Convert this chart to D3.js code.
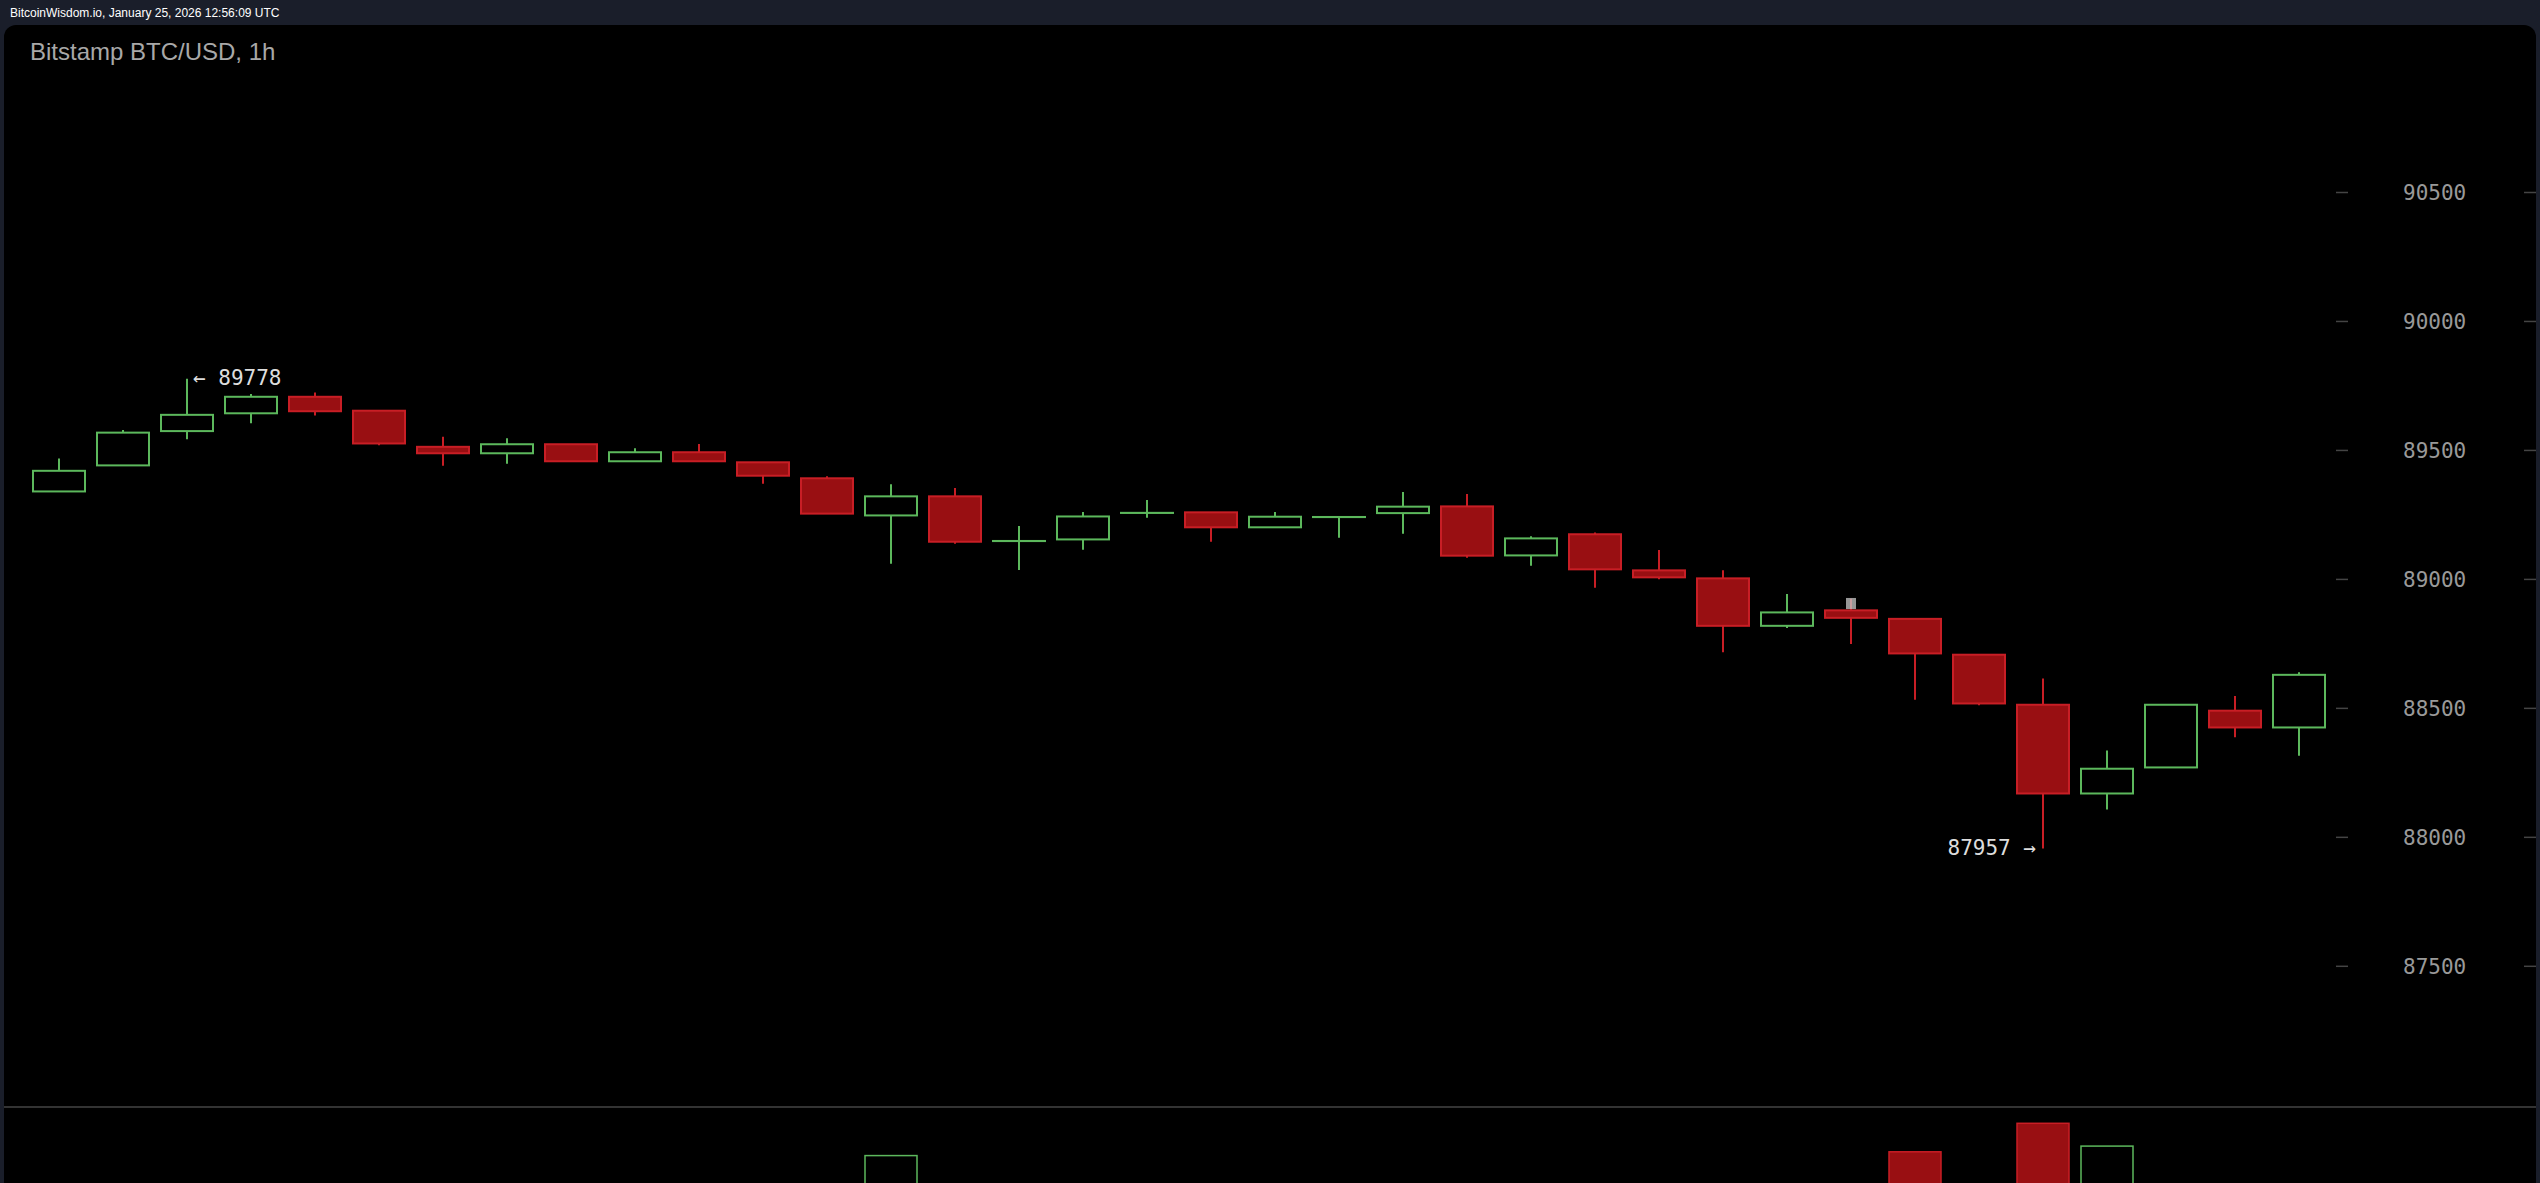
<!DOCTYPE html>
<html>
<head>
<meta charset="utf-8">
<script src="https://cdn.jsdelivr.net/npm/d3@7"></script>
<style>
  html, body { margin: 0; padding: 0; background: #1a1e2a; overflow: hidden; }
  svg { display: block; }
</style>
</head>
<body>
<svg id="chart" width="2540" height="1183"></svg>
<script>
// ---- Data (hourly candles, Bitstamp BTC/USD) ----
const opens  = [89341, 89442, 89575, 89644, 89708, 89654, 89514, 89489, 89524, 89458, 89493, 89454,
                89392, 89248, 89322, 89149, 89155, 89258, 89260, 89202, 89242, 89257, 89283, 89093,
                89175, 89035, 89004, 88820, 88880, 88847, 88708, 88514, 88170, 88271, 88491, 88426];
const highs  = [89469, 89579, 89778, 89719, 89725, 89654, 89553, 89547, 89524, 89508, 89525, 89454,
                89400, 89369, 89354, 89207, 89261, 89308, 89260, 89261, 89242, 89339, 89331, 89167,
                89182, 89114, 89035, 88943, 88925, 88847, 88708, 88616, 88337, 88514, 88548, 88640];
const lows   = [89341, 89442, 89543, 89605, 89635, 89520, 89441, 89448, 89458, 89458, 89458, 89371,
                89255, 89061, 89138, 89036, 89115, 89239, 89146, 89202, 89161, 89177, 89084, 89053,
                88968, 89001, 88718, 88812, 88750, 88533, 88512, 87957, 88108, 88271, 88388, 88316];
const closes = [89421, 89569, 89638, 89708, 89652, 89527, 89489, 89524, 89458, 89493, 89458, 89402,
                89255, 89322, 89146, 89149, 89244, 89258, 89202, 89243, 89242, 89282, 89092, 89159,
                89039, 89008, 88820, 88872, 88851, 88713, 88519, 88170, 88266, 88514, 88426, 88630];
// relative volume (only the tallest bars reach above the bottom edge of the window)
const volumes = [22, 30, 45, 28, 26, 40, 24, 18, 20, 16, 18, 26,
                 48, 76, 52, 38, 30, 20, 25, 18, 22, 34, 50, 30,
                 42, 28, 55, 36, 40, 78, 58, 93, 81, 50, 30, 45];
const priceTicks = [87500, 88000, 88500, 89000, 89500, 90000, 90500];
const highLabel = { index: 2, value: 89778, text: "\u2190 89778" };
const lowLabel  = { index: 31, value: 87957, text: "87957 \u2192" };
const marker = { index: 28, top: 88928, bottom: 88885 };
const headerText = "BitcoinWisdom.io, January 25, 2026 12:56:09 UTC";
const titleText = "Bitstamp BTC/USD, 1h";

// ---- Styles ----
const GREEN = "#5cb85c";
const RED_FILL = "#990f12";
const RED_STROKE = "#c81e25";
const BODY_W = 52;

const svg = d3.select("#chart");

// background panel
svg.append("rect").attr("x", 0).attr("y", 0).attr("width", 2540).attr("height", 1183).attr("fill", "#1a1e2a");
svg.append("rect").attr("x", 4).attr("y", 25).attr("width", 2532).attr("height", 1200)
   .attr("rx", 12).attr("ry", 12).attr("fill", "#000");

svg.append("text").attr("x", 10).attr("y", 17)
   .attr("font-family", "'Liberation Sans', Arial, sans-serif").attr("font-size", 12)
   .attr("fill", "#ffffff").text(headerText);
svg.append("text").attr("x", 30).attr("y", 60)
   .attr("font-family", "'Liberation Sans', Arial, sans-serif").attr("font-size", 24)
   .attr("fill", "#a8a8a8").text(titleText);

const idx = d3.range(opens.length);
const x = d3.scalePoint().domain(idx).range([59, 2299]);
const y = d3.scaleLinear().domain([87500, 90500]).range([966.3, 192.5]);
const yv = d3.scaleLinear().domain([0, 100]).range([1300, 1110]);

// price axis (right side)
const axisG = svg.append("g");
const yAxis = d3.axisRight(y).tickValues(priceTicks).tickSize(0).tickPadding(0).tickFormat(d3.format("d"));
axisG.attr("transform", "translate(2403,0)").call(yAxis);
axisG.select(".domain").remove();
axisG.selectAll("text").attr("x", 0).attr("dy", "0.35em")
   .attr("font-family", "'DejaVu Sans Mono', monospace").attr("font-size", 21).attr("fill", "#999");
svg.append("g").selectAll("line.tl").data(priceTicks).join("line")
   .attr("x1", 2336).attr("x2", 2348).attr("y1", d => y(d)).attr("y2", d => y(d))
   .attr("stroke", "#444").attr("stroke-width", 1.5);
svg.append("g").selectAll("line.tr").data(priceTicks).join("line")
   .attr("x1", 2524).attr("x2", 2536).attr("y1", d => y(d)).attr("y2", d => y(d))
   .attr("stroke", "#444").attr("stroke-width", 1.5);

// candles
const candles = idx.map(i => ({ i, o: opens[i], h: highs[i], l: lows[i], c: closes[i], v: volumes[i] }));
const g = svg.append("g");
g.selectAll("line.wick").data(candles).join("line")
   .attr("x1", d => x(d.i)).attr("x2", d => x(d.i))
   .attr("y1", d => y(d.h)).attr("y2", d => y(d.l))
   .attr("stroke", d => d.c >= d.o ? GREEN : RED_STROKE).attr("stroke-width", 2);
g.selectAll("rect.body").data(candles).join("rect")
   .attr("x", d => x(d.i) - BODY_W / 2).attr("width", BODY_W)
   .attr("y", d => y(Math.max(d.o, d.c)))
   .attr("height", d => Math.max(Math.abs(y(d.o) - y(d.c)), 0.1))
   .attr("fill", d => d.c >= d.o ? "#000" : RED_FILL)
   .attr("stroke", d => d.c >= d.o ? GREEN : RED_STROKE).attr("stroke-width", 2);

// gray marker
svg.append("rect").attr("x", x(marker.index) - 5).attr("width", 10)
   .attr("y", y(marker.top)).attr("height", y(marker.bottom) - y(marker.top))
   .attr("fill", "rgba(200,200,200,0.75)");

// high / low labels
svg.append("text").attr("x", x(highLabel.index) + 6).attr("y", y(highLabel.value)).attr("dy", "0.3em")
   .attr("font-family", "'DejaVu Sans Mono', monospace").attr("font-size", 21).attr("fill", "#ddd")
   .text(highLabel.text);
svg.append("text").attr("x", x(lowLabel.index) - 7).attr("y", y(lowLabel.value)).attr("dy", "0.3em")
   .attr("text-anchor", "end")
   .attr("font-family", "'DejaVu Sans Mono', monospace").attr("font-size", 21).attr("fill", "#ddd")
   .text(lowLabel.text);

// volume panel
svg.append("line").attr("x1", 4).attr("x2", 2536).attr("y1", 1107).attr("y2", 1107)
   .attr("stroke", "#444").attr("stroke-width", 1.5);
svg.append("g").selectAll("rect.vol").data(candles).join("rect")
   .attr("x", d => x(d.i) - BODY_W / 2).attr("width", BODY_W)
   .attr("y", d => yv(d.v)).attr("height", d => yv(0) - yv(d.v))
   .attr("fill", d => d.c >= d.o ? "#000" : RED_FILL)
   .attr("stroke", d => d.c >= d.o ? GREEN : RED_STROKE).attr("stroke-width", 1.5);
</script>
</body>
</html>
